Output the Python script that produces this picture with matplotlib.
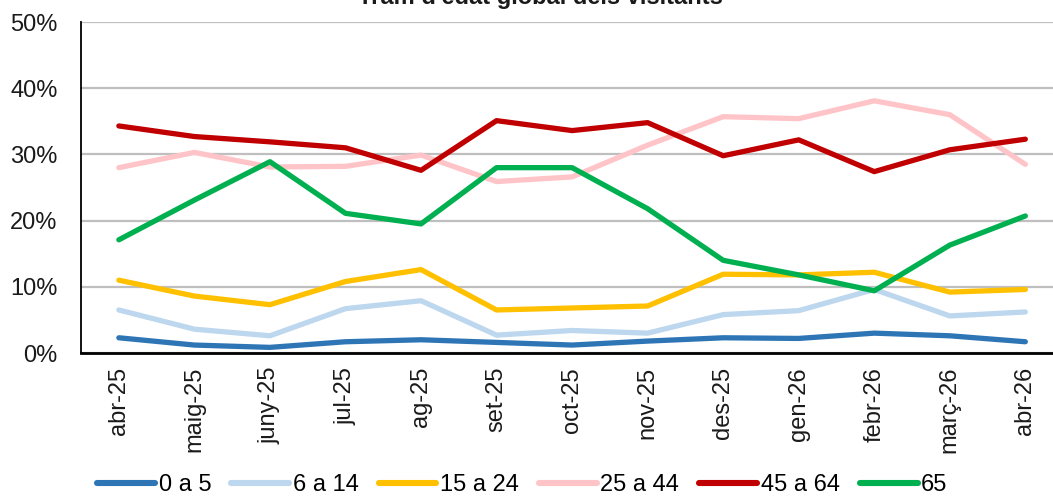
import numpy as np
import matplotlib
matplotlib.use('Agg')
import matplotlib.pyplot as plt
from matplotlib.ticker import PercentFormatter

plt.rcParams['font.family'] = ['Liberation Sans', 'DejaVu Sans']

# months on the x axis
months = ['abr-25', 'maig-25', 'juny-25', 'jul-25', 'ag-25', 'set-25', 'oct-25',
          'nov-25', 'des-25', 'gen-26', 'febr-26', 'març-26', 'abr-26']

# share of visitors per age band (%)
age_0_5 = [2.3, 1.2, 0.85, 1.7, 2.0, 1.6, 1.2, 1.8, 2.3, 2.2, 3.0, 2.6, 1.7]
age_6_14 = [6.5, 3.6, 2.6, 6.7, 7.9, 2.7, 3.4, 3.0, 5.8, 6.4, 9.6, 5.6, 6.2]
age_15_24 = [11.0, 8.6, 7.3, 10.8, 12.6, 6.5, 6.8, 7.1, 11.9, 11.8, 12.2, 9.2, 9.6]
age_25_44 = [28.0, 30.3, 28.1, 28.2, 29.9, 25.9, 26.6, 31.4, 35.7, 35.4, 38.1, 36.0, 28.5]
age_45_64 = [34.3, 32.7, 31.9, 31.0, 27.6, 35.1, 33.6, 34.8, 29.8, 32.2, 27.4, 30.7, 32.3]
age_65 = [17.1, 23.1, 28.9, 21.1, 19.5, 28.0, 28.0, 21.8, 14.0, 11.8, 9.4, 16.3, 20.7]

series = [
    ('0 a 5', age_0_5, '#2E75B6'),
    ('6 a 14', age_6_14, '#BDD7EE'),
    ('15 a 24', age_15_24, '#FFC000'),
    ('25 a 44', age_25_44, '#FFC4C8'),
    ('45 a 64', age_45_64, '#C00000'),
    ('65', age_65, '#00B050'),
]

fig = plt.figure(figsize=(10.53, 4.96), dpi=100)
ax = fig.add_axes([0.077, 0.2883, 0.9326, 0.6673])

x = np.arange(len(months))
for label, vals, color in series:
    ax.plot(x, vals, color=color, linewidth=3.8, label=label,
            solid_capstyle='round', solid_joinstyle='round')

ax.set_xlim(-0.5, len(months) - 0.5)
ax.set_ylim(0, 50)
ax.set_yticks(np.arange(0, 51, 10))
ax.yaxis.set_major_formatter(PercentFormatter(decimals=0))
ax.set_xticks(x)
ax.set_xticklabels(months, rotation=90, fontsize=17)
ax.tick_params(axis='y', labelsize=17, length=0, pad=17, colors='#1a1a1a')
ax.tick_params(axis='x', length=0, pad=10, colors='#1a1a1a')

ax.grid(axis='y', color='#BFBFBF', linewidth=1.6)
ax.set_axisbelow(True)
for side in ['top', 'right']:
    ax.spines[side].set_visible(False)
ax.spines['left'].set_color('black')
ax.spines['left'].set_linewidth(1.3)
ax.spines['bottom'].set_color('black')
ax.spines['bottom'].set_linewidth(2.0)

# title is clipped by the top edge, as in the original image
fig.text(0.513, 0.992, "Tram d'edat global dels visitants", ha='center', va='baseline',
         fontsize=17, fontweight='bold', color='#1a1a1a')

leg = fig.legend(loc='center', bbox_to_anchor=(0.496, 0.022), ncol=6, frameon=False,
                 fontsize=17, handlelength=2.45, handletextpad=0.15, columnspacing=0.85,
                 borderpad=0, borderaxespad=0)
for line in leg.get_lines():
    line.set_linewidth(4.4)
    line.set_solid_capstyle('round')

fig.savefig('out.png', dpi=100)
